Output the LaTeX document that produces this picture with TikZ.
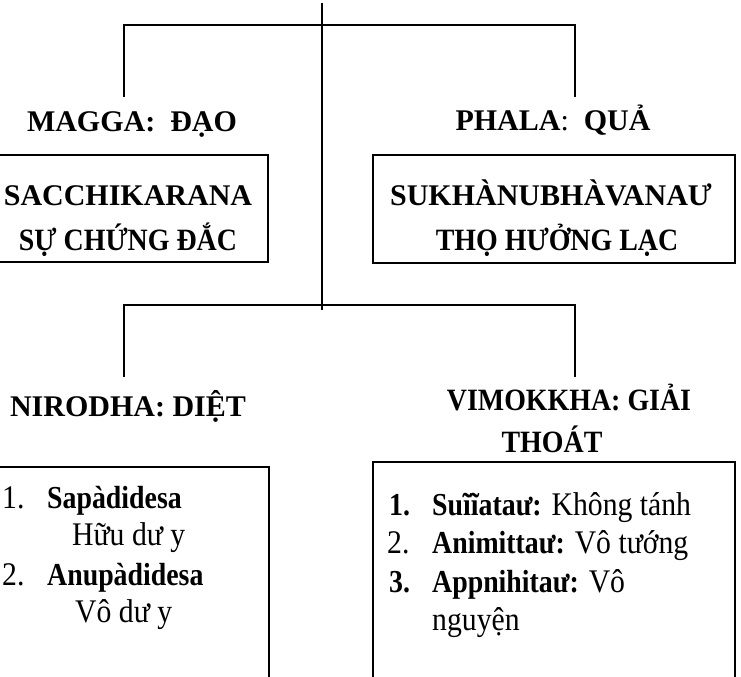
\documentclass[tikz,border=0pt]{standalone}
\usepackage{fontspec}
\setmainfont{Liberation Serif}
\newfontfamily\narrowserif[FakeStretch=0.9]{Liberation Serif}
\newfontfamily\kwserif[FakeStretch=0.87]{Liberation Serif}
\usetikzlibrary{positioning}

\newcommand\kw[1]{{\kwserif\bfseries\fontsize{32bp}{37bp}\selectfont #1}}

\tikzset{
  head/.style={anchor=base, inner sep=0pt, font=\bfseries\fontsize{30bp}{37bp}\selectfont},
  tight/.style={head, font=\narrowserif\bfseries\fontsize{31bp}{37bp}\selectfont},
  frame/.style={draw, line width=2bp, inner sep=0pt},
  item/.style={anchor=base west, inner sep=0pt, font=\narrowserif\fontsize{33bp}{37bp}\selectfont},
  link/.style={line width=1.4bp},
}

\begin{document}
\begin{tikzpicture}[x=1bp,y=-1bp]
\useasboundingbox (0,0) rectangle (741,677);

% trunk and branches
\coordinate (trunktop) at (322,3);
\coordinate (trunkfoot) at (322,310);
\coordinate (upL) at (124,97);
\coordinate (upR) at (575,97);
\coordinate (loL) at (124,377);
\coordinate (loR) at (575,377);
\draw[link] (trunktop) -- (trunkfoot);
\draw[link] (upL) -- ++(0,-72) -| (upR);
\draw[link] (loL) -- ++(0,-72) -| (loR);

% upper level
\node[head] (magga) at (132,132) {MAGGA:~~ĐẠO};
\node[head] (phala) at (553,131) {PHALA{\mdseries:}~~QUẢ};
\node[frame, minimum width=280bp, minimum height=107bp] (sacchibox) at (128,208.5) {};
\node[head] (sacchi) at (128,205) {SACCHIKARANA};
\node[tight] (sacchivn) at (128,250) {SỰ CHỨNG ĐẮC};
\node[frame, minimum width=362bp, minimum height=108bp] (sukhabox) at (554,209) {};
\node[head] (sukha) at (551,205) {SUKHÀNUBHÀVANAƯ};
\node[tight] (sukhavn) at (557,250) {THỌ HƯỞNG LẠC};

% lower level
\node[head] (nirodha) at (128,416) {NIRODHA: DIỆT};
\node[tight] (vimo) at (569,410) {VIMOKKHA: GIẢI};
\node[tight] (vimob) at (552,452) {THOÁT};
\node[frame, minimum width=281bp, minimum height=238bp] (nirobox) at (128.5,586) {};
\node[frame, minimum width=362bp, minimum height=238bp] (vimobox) at (554,581) {};

% nirodha list
\node[item] (n1) at (2,508) {1.};
\node[item] (n1a) at (47,508) {\kw{Sapàdidesa}};
\node[item] (n1b) at (72,545) {Hữu dư y};
\node[item] (n2) at (2,585) {2.};
\node[item] (n2a) at (47,585) {\kw{Anupàdidesa}};
\node[item] (n2b) at (75,622) {Vô dư y};

% vimokkha list
\node[item] (v1) at (389,515) {\kw{1.}};
\node[item] (v1a) at (432,515) {\kw{Suĩĩataư:} Không tánh};
\node[item] (v2) at (387,553) {2.};
\node[item] (v2a) at (432,553) {\kw{Animittaư:} Vô tướng};
\node[item] (v3) at (389,592) {\kw{3.}};
\node[item] (v3a) at (432,592) {\kw{Appnihitaư:} Vô};
\node[item] (v3b) at (432,630) {nguyện};
\end{tikzpicture}
\end{document}
